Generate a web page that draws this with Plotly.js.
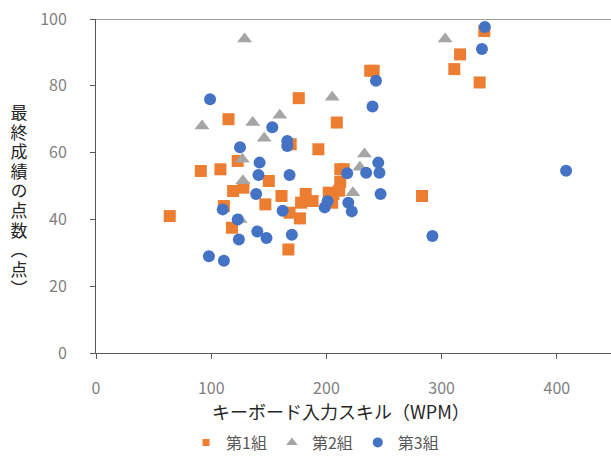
<!DOCTYPE html>
<html>
<head>
<meta charset="utf-8">
<script src="https://cdn.plot.ly/plotly-3.0.1.min.js"></script>
<style>html,body{margin:0;padding:0;background:#fff;}#chart{width:611px;height:460px;}</style>
</head>
<body>
<div id="chart"></div>
<script>
// Series names
const seriesNames = ['第1組', '第2組', '第3組'];

// 第1組 (orange squares)
const g1x = [64, 91, 108, 111, 115, 118, 119, 123, 128, 147, 150, 161, 167, 168, 169, 176, 177, 178, 182, 188, 193, 202, 205, 206, 209, 211, 212, 212, 215, 238, 241, 283, 311, 316, 333, 337];
const g1y = [41, 54.5, 55, 44, 70, 37.5, 48.5, 57.5, 49.5, 44.5, 51.5, 47, 31, 42, 62.5, 76.3, 40.3, 45, 47.6, 45.5, 61, 48, 45, 47.6, 69, 48.6, 51.2, 55, 55, 84.5, 84.5, 47, 85, 89.4, 81, 96.4];

// 第2組 (gray triangles)
const g2x = [92, 125, 127, 127.5, 129, 136, 146, 159.5, 205, 223, 229, 233, 303];
const g2y = [68, 40, 58, 51.6, 94, 69, 64.3, 71.2, 76.6, 48, 55.6, 59.6, 94];

// 第3組 (blue circles)
const g3x = [98, 99, 110, 111, 123, 124, 125, 139, 140, 141, 142, 148, 153, 162, 166, 166, 168, 170, 198.5, 201, 218, 219, 222, 234.5, 240, 243, 245, 246, 247, 292, 335, 337.5, 408];
const g3y = [29, 76, 43, 27.6, 40, 34, 61.6, 47.6, 36.4, 53.3, 57, 34.4, 67.6, 42.6, 63.5, 62, 53.3, 35.4, 43.6, 45.4, 53.8, 45, 42.4, 54, 73.8, 81.5, 57, 54, 47.6, 35, 91, 97.6, 54.6];

// Axis ticks and titles
const xTickVals = [0, 100, 200, 300, 400];
const yTickVals = [0, 20, 40, 60, 80, 100];
const xTitle = 'キーボード入力スキル（WPM）';
const yTitle = '最終成績の点数（点）';

const colors = ['#ED7D31', '#A5A5A5', '#4472C4'];
const symbols = ['square', 'triangle-up', 'circle'];
const legendSizes = [7, 10, 10];
const xs = [g1x, g2x, g3x];
const ys = [g1y, g2y, g3y];

const font = '"Noto Sans CJK JP", "Noto Sans", sans-serif';

const traces = [];
for (let i = 0; i < 3; i++) {
  traces.push({
    type: 'scatter', mode: 'markers', x: xs[i], y: ys[i],
    name: seriesNames[i], showlegend: false, cliponaxis: false,
    marker: {symbol: symbols[i], color: colors[i], size: i === 1 ? 13 : 12, line: {width: 0}}
  });
}
// legend-only entries with smaller markers
for (let i = 0; i < 3; i++) {
  traces.push({
    type: 'scatter', mode: 'markers', x: [null], y: [null],
    name: seriesNames[i], showlegend: true,
    marker: {symbol: symbols[i], color: colors[i], size: legendSizes[i]}
  });
}

const W = 611, H = 460, mL = 96, mR = 0, mT = 19, mB = 107;
const plotH = H - mT - mB, plotW = W - mL - mR;

const annotations = [];
// x axis title
annotations.push({
  text: xTitle, xref: 'paper', yref: 'paper',
  x: (341 - mL) / plotW, y: (H - mB - 411) / plotH,
  xanchor: 'center', yanchor: 'middle', showarrow: false,
  font: {family: font, size: 18, color: '#262626'}
});
// y axis title (turned into upright vertical writing after render)
annotations.push({
  text: yTitle, xref: 'paper', yref: 'paper',
  x: (19 - mL) / plotW, y: (H - mB - 194) / plotH,
  xanchor: 'center', yanchor: 'middle', showarrow: false,
  font: {family: font, size: 17, color: '#262626'}
});

const layout = {
  width: W, height: H,
  margin: {l: mL, r: mR, t: mT, b: mB, pad: 0},
  paper_bgcolor: '#ffffff', plot_bgcolor: '#ffffff',
  font: {family: font, color: '#7f7f7f'},
  xaxis: {
    range: [0, 447], tickvals: xTickVals, ticks: 'outside', ticklen: 5, tickcolor: '#595959',
    showgrid: false, zeroline: false, showline: true, linecolor: '#595959', linewidth: 1,
    tickfont: {family: font, size: 16, color: '#7f7f7f'}, ticklabelstandoff: 16
  },
  yaxis: {
    range: [0, 100], tickvals: yTickVals, ticks: 'outside', ticklen: 5, tickcolor: '#595959',
    showgrid: false, zeroline: false, showline: true, linecolor: '#595959', linewidth: 1,
    tickfont: {family: font, size: 16, color: '#7f7f7f'}, ticklabelstandoff: 20
  },
  shapes: [{type: 'line', xref: 'paper', yref: 'y', x0: 0, x1: 1, y0: 100, y1: 100,
            line: {color: '#404040', width: 1}}],
  showlegend: true,
  legend: {
    orientation: 'h', x: (186 - mL) / plotW, xanchor: 'left', y: (H - mB - 459.5) / plotH, yanchor: 'bottom',
    font: {family: font, size: 16, color: '#595959'}, itemwidth: 30, traceorder: 'normal',
    bgcolor: 'rgba(0,0,0,0)'
  },
  annotations: annotations
};

Plotly.newPlot('chart', traces, layout, {displayModeBar: false, staticPlot: true}).then(gd => {
  const t = gd.querySelector('.annotation[data-index="1"] text.annotation-text');
  if (t) {
    const st = t.getAttribute('style') || '';
    t.setAttribute('style', st + ';writing-mode:vertical-rl;text-orientation:upright;letter-spacing:2.6px;');
    t.setAttribute('text-anchor', 'middle');
    t.setAttribute('dominant-baseline', 'central');
  }
});
</script>
</body>
</html>
